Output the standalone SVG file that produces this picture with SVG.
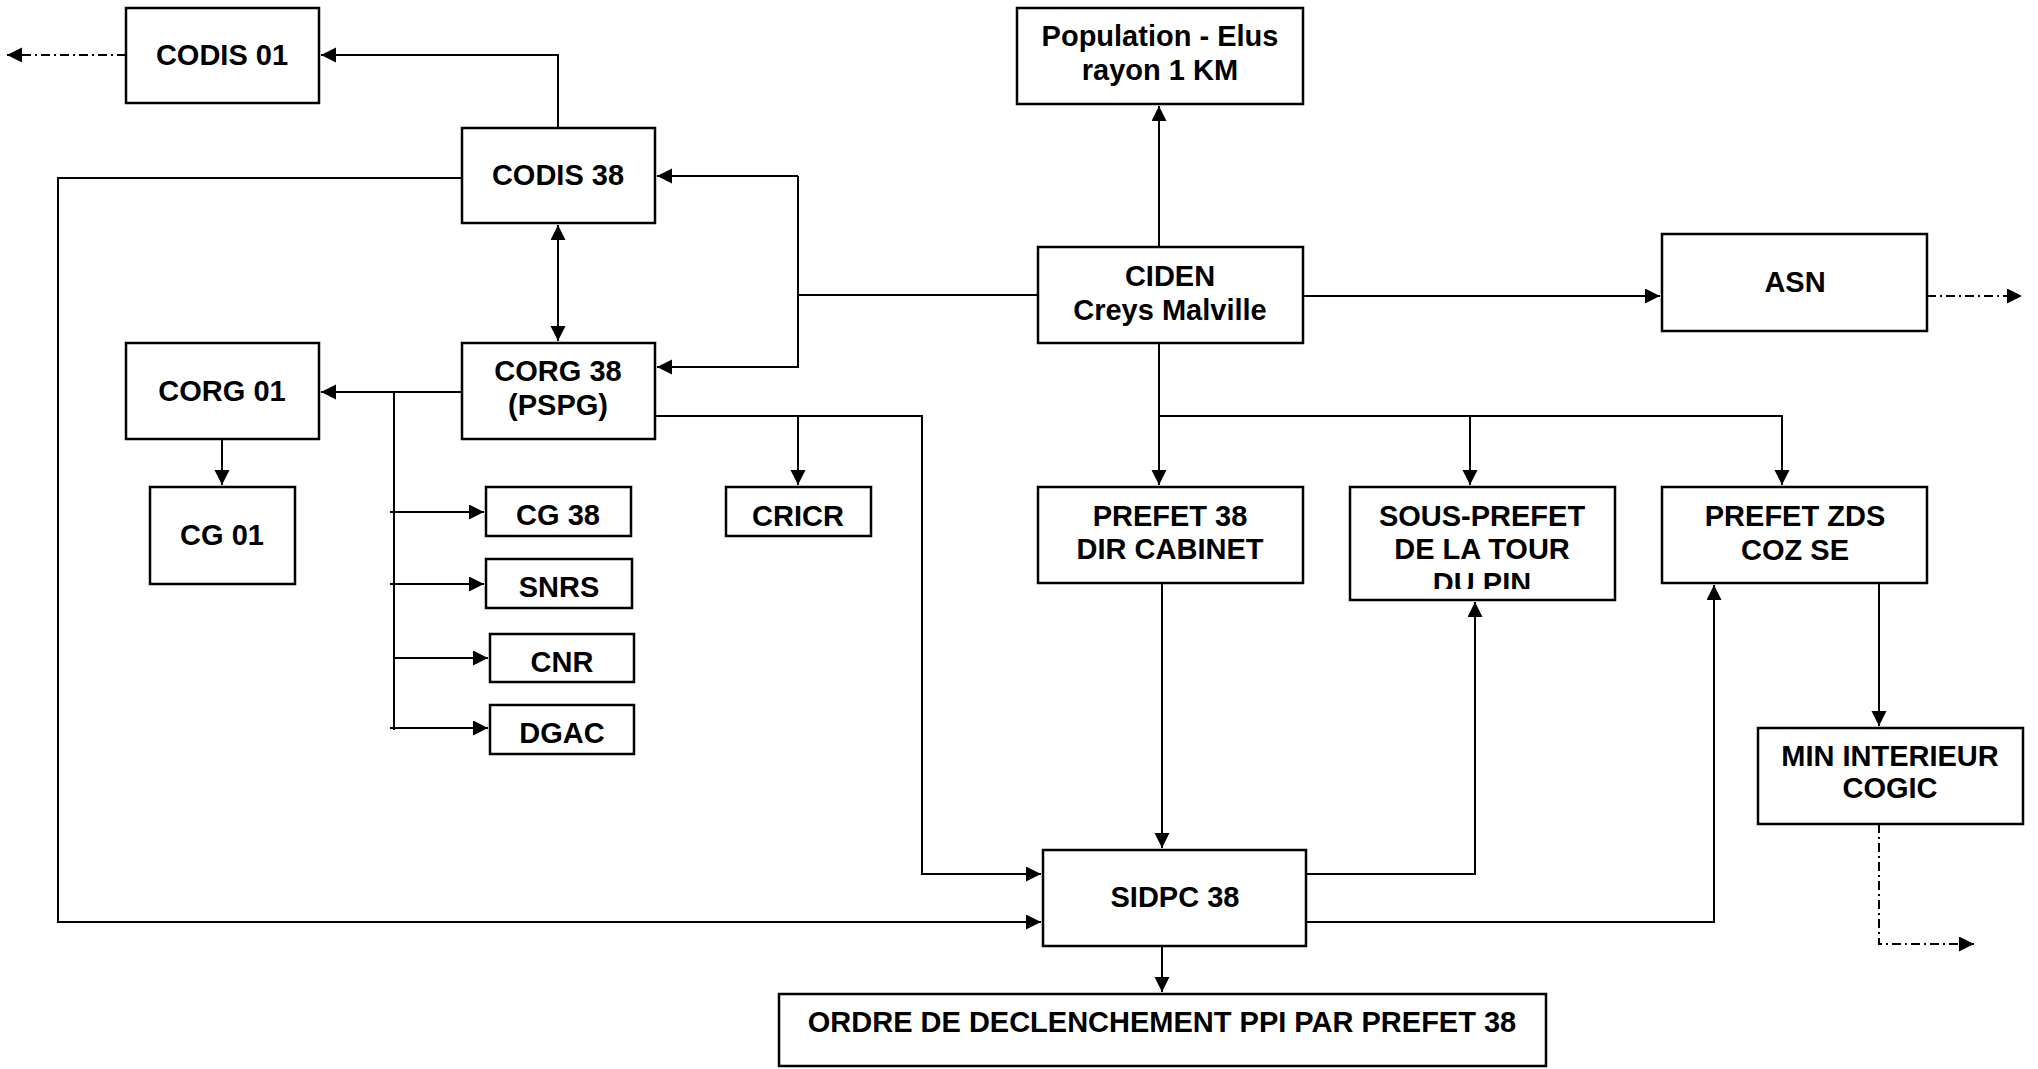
<svg xmlns="http://www.w3.org/2000/svg" width="2038" height="1069" viewBox="0 0 2038 1069">
<style>
.box{fill:#fff;stroke:#000;stroke-width:2.5}
.t{font-family:"Liberation Sans",Arial,sans-serif;font-weight:bold;font-size:29px;text-anchor:middle;fill:#000}
.c{fill:none;stroke:#000;stroke-width:2}
.d{fill:none;stroke:#000;stroke-width:2;stroke-dasharray:9 4 2 4}
</style>
<defs>
<marker id="ah" markerUnits="userSpaceOnUse" markerWidth="16" markerHeight="16" refX="15" refY="7.5" orient="auto-start-reverse" viewBox="0 0 16 16">
<path d="M0,0 L15,7.5 L0,15 z" fill="#000"/>
</marker>
<clipPath id="clipSP"><rect x="1350" y="487" width="265" height="102"/></clipPath>
</defs>
<rect width="2038" height="1069" fill="#fff"/>
<g id="connectors">
<path class="c" d="M558,128 V55 H321" marker-end="url(#ah)"/>
<path class="d" d="M126,55 H7" marker-end="url(#ah)"/>
<path class="c" d="M466,178 H58 V922 H1041" marker-end="url(#ah)"/>
<path class="c" d="M558,225 V341" marker-start="url(#ah)" marker-end="url(#ah)"/>
<path class="c" d="M1038,295 H798"/>
<path class="c" d="M798,176 V368"/>
<path class="c" d="M798,176 H657" marker-end="url(#ah)"/>
<path class="c" d="M798,367 H657" marker-end="url(#ah)"/>
<path class="c" d="M462,392 H321" marker-end="url(#ah)"/>
<path class="c" d="M394,392 V730"/>
<path class="c" d="M390,512 H484" marker-end="url(#ah)"/>
<path class="c" d="M390,584 H484" marker-end="url(#ah)"/>
<path class="c" d="M394,658 H488" marker-end="url(#ah)"/>
<path class="c" d="M390,728 H488" marker-end="url(#ah)"/>
<path class="c" d="M222,439 V485" marker-end="url(#ah)"/>
<path class="c" d="M655,416 H922 V874 H1041" marker-end="url(#ah)"/>
<path class="c" d="M798,416 V485" marker-end="url(#ah)"/>
<path class="c" d="M1159,247 V106" marker-end="url(#ah)"/>
<path class="c" d="M1303,296 H1660" marker-end="url(#ah)"/>
<path class="d" d="M1927,296 H2022" marker-end="url(#ah)"/>
<path class="c" d="M1159,343 V485" marker-end="url(#ah)"/>
<path class="c" d="M1159,416 H1782 V485" marker-end="url(#ah)"/>
<path class="c" d="M1470,416 V485" marker-end="url(#ah)"/>
<path class="c" d="M1162,583 V848" marker-end="url(#ah)"/>
<path class="c" d="M1306,874 H1475 V602" marker-end="url(#ah)"/>
<path class="c" d="M1306,922 H1714 V585" marker-end="url(#ah)"/>
<path class="c" d="M1879,583 V726" marker-end="url(#ah)"/>
<path class="d" d="M1879,824 V944 H1974" marker-end="url(#ah)"/>
<path class="c" d="M1162,946 V992" marker-end="url(#ah)"/>
</g>
<g id="codis01"><rect class="box" x="126" y="8" width="193" height="95"/><text class="t" x="222" y="65">CODIS 01</text></g>
<g id="codis38"><rect class="box" x="462" y="128" width="193" height="95"/><text class="t" x="558" y="185">CODIS 38</text></g>
<g id="corg01"><rect class="box" x="126" y="343" width="193" height="96"/><text class="t" x="222" y="401">CORG 01</text></g>
<g id="corg38"><rect class="box" x="462" y="343" width="193" height="96"/><text class="t" x="558" y="381">CORG 38</text><text class="t" x="558" y="415">(PSPG)</text></g>
<g id="cg01"><rect class="box" x="150" y="487" width="145" height="97"/><text class="t" x="222" y="545">CG 01</text></g>
<g id="cg38"><rect class="box" x="486" y="487" width="145" height="49"/><text class="t" x="558" y="525">CG 38</text></g>
<g id="snrs"><rect class="box" x="486" y="559" width="146" height="49"/><text class="t" x="559" y="597">SNRS</text></g>
<g id="cnr"><rect class="box" x="490" y="634" width="144" height="48"/><text class="t" x="562" y="672">CNR</text></g>
<g id="dgac"><rect class="box" x="490" y="705" width="144" height="49"/><text class="t" x="562" y="743">DGAC</text></g>
<g id="cricr"><rect class="box" x="726" y="487" width="145" height="49"/><text class="t" x="798" y="526">CRICR</text></g>
<g id="population"><rect class="box" x="1017" y="8" width="286" height="96"/><text class="t" x="1160" y="46">Population - Elus</text><text class="t" x="1160" y="80">rayon 1 KM</text></g>
<g id="ciden"><rect class="box" x="1038" y="247" width="265" height="96"/><text class="t" x="1170" y="286">CIDEN</text><text class="t" x="1170" y="320">Creys Malville</text></g>
<g id="asn"><rect class="box" x="1662" y="234" width="265" height="97"/><text class="t" x="1795" y="292">ASN</text></g>
<g id="prefet38"><rect class="box" x="1038" y="487" width="265" height="96"/><text class="t" x="1170" y="526">PREFET 38</text><text class="t" x="1170" y="559">DIR CABINET</text></g>
<g id="sousprefet"><rect class="box" x="1350" y="487" width="265" height="113"/><g clip-path="url(#clipSP)"><text class="t" x="1482" y="526">SOUS-PREFET</text><text class="t" x="1482" y="559">DE LA TOUR</text><text class="t" x="1482" y="593">DU PIN</text></g></g>
<g id="prefetzds"><rect class="box" x="1662" y="487" width="265" height="96"/><text class="t" x="1795" y="526">PREFET ZDS</text><text class="t" x="1795" y="560">COZ SE</text></g>
<g id="mininterieur"><rect class="box" x="1758" y="728" width="265" height="96"/><text class="t" x="1890" y="766">MIN INTERIEUR</text><text class="t" x="1890" y="798">COGIC</text></g>
<g id="sidpc38"><rect class="box" x="1043" y="850" width="263" height="96"/><text class="t" x="1175" y="907">SIDPC 38</text></g>
<g id="ordre"><rect class="box" x="779" y="994" width="767" height="72"/><text class="t" x="1162" y="1032">ORDRE DE DECLENCHEMENT PPI PAR PREFET 38</text></g>
</svg>
